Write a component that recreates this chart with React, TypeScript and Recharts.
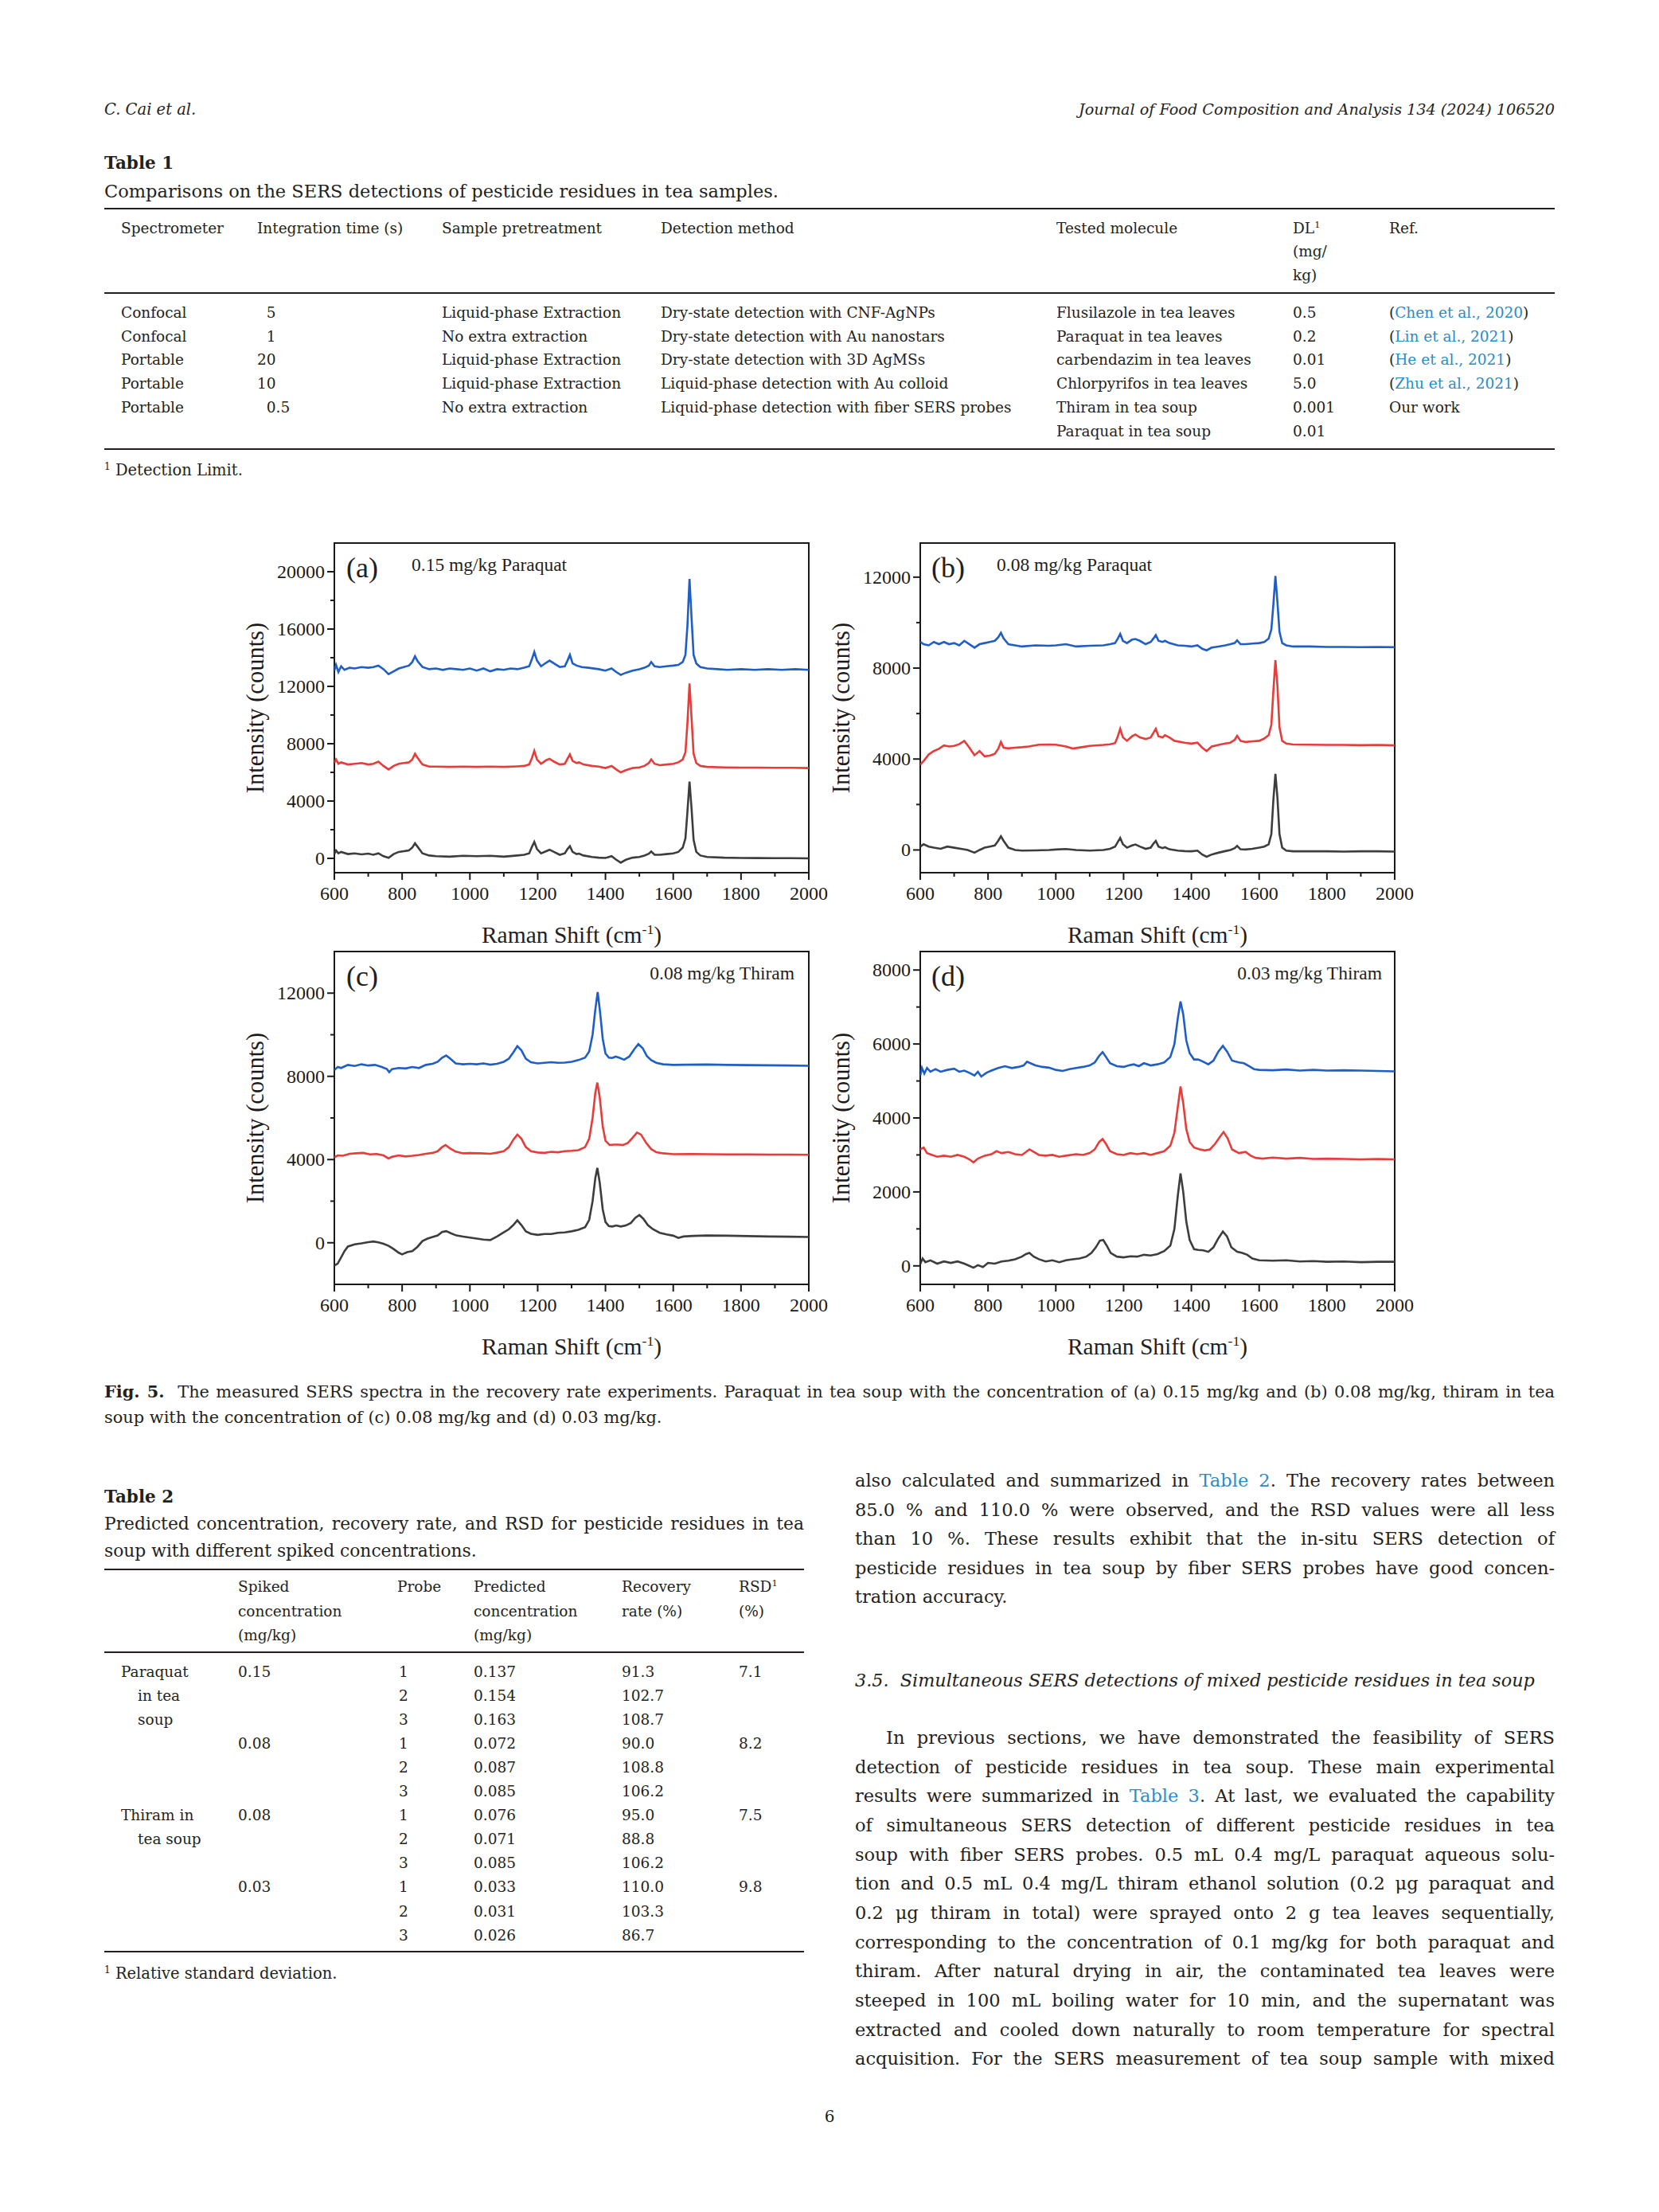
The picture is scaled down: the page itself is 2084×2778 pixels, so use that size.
import React from 'react';
import { LineChart, Line, XAxis, YAxis, ReferenceArea } from 'recharts';

type Pt = [number, number];

// ---- Fig. 5 spectra, [Raman shift (cm-1), intensity (counts)] ----

// (a) 0.15 mg/kg paraquat
const aBlue: Pt[] = [[600,13100],[605,13500],[612,13000],[620,13400],[630,13150],[645,13300],[660,13250],[680,13350],[700,13300],[715,13350],[730,13450],[745,13200],[760,12850],[775,13050],[790,13250],[805,13350],[820,13450],[830,13700],[838,14100],[846,13750],[860,13350],[880,13200],[900,13250],[920,13150],[940,13250],[960,13200],[980,13150],[1000,13250],[1020,13100],[1040,13250],[1060,13050],[1080,13200],[1100,13150],[1120,13250],[1140,13200],[1160,13300],[1175,13400],[1183,13900],[1190,14400],[1198,13800],[1210,13400],[1225,13650],[1235,13800],[1248,13600],[1265,13350],[1280,13400],[1288,13800],[1295,14200],[1303,13600],[1315,13450],[1330,13350],[1350,13300],[1380,13200],[1400,13100],[1418,13250],[1432,13000],[1445,12800],[1460,12950],[1480,13100],[1500,13200],[1515,13300],[1528,13450],[1535,13700],[1545,13400],[1560,13350],[1580,13400],[1600,13450],[1615,13500],[1628,13700],[1636,14200],[1642,16300],[1648,19500],[1654,16800],[1660,14200],[1668,13600],[1680,13350],[1700,13250],[1730,13200],[1760,13150],[1800,13200],[1840,13150],[1880,13200],[1920,13150],[1960,13200],[2000,13150]];
const aRed: Pt[] = [[600,6650],[605,6900],[612,6600],[620,6700],[640,6550],[660,6600],[680,6650],[700,6550],[715,6600],[730,6750],[745,6450],[760,6200],[775,6450],[790,6600],[805,6650],[820,6700],[830,6900],[838,7300],[846,7000],[860,6550],[880,6400],[900,6400],[940,6380],[980,6400],[1020,6380],[1060,6400],[1100,6380],[1140,6420],[1160,6450],[1175,6550],[1183,7000],[1190,7500],[1198,6900],[1210,6600],[1225,6850],[1235,6950],[1248,6750],[1265,6550],[1280,6600],[1288,6950],[1295,7250],[1303,6800],[1315,6650],[1322,6700],[1335,6550],[1360,6450],[1380,6400],[1400,6300],[1418,6450],[1432,6200],[1445,6000],[1460,6150],[1480,6300],[1500,6350],[1515,6450],[1528,6650],[1535,6900],[1545,6600],[1560,6500],[1580,6550],[1600,6600],[1615,6700],[1628,6900],[1636,7400],[1642,9500],[1648,12200],[1654,9800],[1660,7300],[1668,6650],[1680,6450],[1700,6380],[1750,6350],[1800,6330],[1850,6330],[1900,6320],[1950,6320],[2000,6300]];
const aGrey: Pt[] = [[600,300],[605,550],[612,350],[620,450],[640,300],[660,350],[680,280],[700,330],[715,250],[730,350],[745,150],[760,40],[775,300],[790,450],[805,500],[820,550],[830,750],[838,1050],[846,800],[860,350],[880,200],[900,150],[940,120],[980,180],[1020,150],[1060,180],[1100,120],[1140,200],[1160,250],[1175,350],[1183,800],[1190,1150],[1198,650],[1210,350],[1225,500],[1235,600],[1248,450],[1265,250],[1280,350],[1288,650],[1295,850],[1303,450],[1315,300],[1322,330],[1335,200],[1360,100],[1380,50],[1400,30],[1418,150],[1432,-100],[1445,-300],[1460,-100],[1480,50],[1500,100],[1515,200],[1528,320],[1535,480],[1545,250],[1560,250],[1580,300],[1600,350],[1615,450],[1628,750],[1636,1400],[1642,3300],[1648,5350],[1654,3500],[1660,1300],[1668,450],[1680,200],[1700,100],[1750,50],[1800,30],[1850,20],[1900,10],[1950,10],[2000,0]];

// (b) 0.08 mg/kg paraquat
const bBlue: Pt[] = [[600,9150],[610,9050],[625,9000],[640,9150],[655,9050],[670,9150],[685,9050],[700,9100],[715,9000],[730,9200],[745,9050],[760,8900],[775,9050],[790,9100],[805,9150],[820,9200],[830,9350],[838,9550],[846,9300],[860,9050],[880,9000],[900,8950],[940,9000],[980,8980],[1000,9000],[1030,9050],[1060,8950],[1100,8980],[1140,9000],[1160,9050],[1175,9100],[1183,9300],[1190,9500],[1198,9200],[1210,9100],[1225,9250],[1235,9280],[1248,9200],[1265,9050],[1280,9150],[1288,9300],[1295,9450],[1303,9200],[1315,9150],[1322,9200],[1335,9100],[1360,9000],[1380,8980],[1400,8950],[1418,9000],[1432,8850],[1445,8780],[1460,8900],[1480,8950],[1500,9000],[1515,9050],[1528,9100],[1535,9220],[1545,9050],[1560,9050],[1580,9080],[1600,9100],[1615,9150],[1628,9300],[1636,9700],[1642,10800],[1648,12050],[1654,10900],[1660,9600],[1668,9100],[1680,9000],[1700,8950],[1750,8950],[1800,8930],[1850,8930],[1900,8920],[1950,8930],[2000,8920]];
const bRed: Pt[] = [[600,3750],[612,3950],[625,4200],[640,4350],[655,4450],[670,4600],[685,4550],[700,4580],[715,4650],[730,4800],[745,4500],[760,4170],[775,4350],[790,4120],[805,4150],[820,4230],[830,4450],[838,4750],[846,4500],[860,4470],[880,4500],[900,4520],[920,4550],[950,4630],[980,4640],[1000,4630],[1030,4550],[1050,4460],[1080,4530],[1100,4580],[1140,4620],[1160,4650],[1175,4700],[1183,5000],[1190,5330],[1198,4950],[1210,4800],[1225,5000],[1235,5080],[1248,4950],[1265,4880],[1280,4950],[1288,5150],[1295,5330],[1303,5000],[1315,4950],[1322,5050],[1335,4950],[1350,4800],[1380,4720],[1400,4680],[1418,4720],[1432,4500],[1445,4350],[1460,4550],[1480,4620],[1500,4680],[1515,4720],[1528,4850],[1535,5020],[1545,4800],[1560,4750],[1580,4780],[1600,4800],[1615,4900],[1628,5050],[1636,5500],[1642,7000],[1648,8350],[1654,7200],[1660,5400],[1668,4800],[1680,4680],[1700,4640],[1750,4630],[1800,4620],[1850,4620],[1900,4610],[1950,4620],[2000,4600]];
const bGrey: Pt[] = [[600,150],[610,250],[625,150],[640,100],[660,50],[680,150],[700,100],[720,50],[740,0],[760,-120],[775,0],[790,100],[805,150],[820,200],[830,400],[838,600],[846,400],[860,100],[880,0],[900,-30],[940,-20],[980,0],[1000,20],[1030,40],[1060,0],[1100,-30],[1140,0],[1160,50],[1175,150],[1183,350],[1190,530],[1198,250],[1210,100],[1225,200],[1235,240],[1248,150],[1265,50],[1280,100],[1288,280],[1295,400],[1303,150],[1315,80],[1322,120],[1335,30],[1360,-30],[1380,-50],[1400,-60],[1418,-30],[1432,-200],[1445,-300],[1460,-200],[1480,-120],[1500,-50],[1515,0],[1528,80],[1535,180],[1545,30],[1560,20],[1580,50],[1600,100],[1615,150],[1628,250],[1636,700],[1642,2200],[1648,3350],[1654,2300],[1660,700],[1668,100],[1680,-30],[1700,-60],[1750,-60],[1800,-60],[1850,-70],[1900,-60],[1950,-60],[2000,-70]];

// (c) 0.08 mg/kg thiram
const cBlue: Pt[] = [[600,8300],[610,8450],[620,8400],[640,8550],[660,8500],[680,8580],[700,8520],[720,8550],[740,8450],[755,8350],[762,8200],[770,8350],[790,8400],[810,8380],[830,8450],[850,8400],[870,8550],[890,8600],[905,8700],[918,8900],[930,9000],[942,8850],[958,8620],[980,8580],[1000,8600],[1020,8580],[1040,8620],[1060,8560],[1080,8600],[1100,8700],[1115,8850],[1128,9150],[1140,9450],[1152,9250],[1165,8850],[1180,8680],[1200,8620],[1220,8650],[1240,8680],[1260,8650],[1280,8660],[1300,8700],[1320,8780],[1340,8900],[1352,9200],[1362,10000],[1370,11200],[1377,12050],[1384,11100],[1392,9800],[1400,9100],[1410,8900],[1420,8880],[1430,8950],[1440,8900],[1455,8800],[1470,8950],[1485,9300],[1497,9550],[1510,9350],[1522,8980],[1535,8780],[1550,8650],[1570,8580],[1600,8550],[1640,8560],[1700,8570],[1760,8550],[1820,8540],[1880,8530],[1940,8520],[2000,8510]];
const cRed: Pt[] = [[600,4100],[610,4200],[625,4180],[645,4280],[665,4300],[685,4320],[705,4250],[725,4270],[745,4200],[760,4050],[770,4130],[790,4200],[810,4150],[830,4180],[850,4220],[870,4280],[890,4320],[905,4400],[918,4600],[928,4700],[940,4550],[958,4380],[980,4300],[1000,4310],[1030,4300],[1060,4280],[1080,4330],[1100,4400],[1115,4600],[1128,4950],[1140,5200],[1152,5000],[1165,4600],[1180,4400],[1200,4340],[1220,4320],[1240,4370],[1260,4350],[1280,4400],[1300,4420],[1320,4450],[1340,4600],[1352,5000],[1362,6000],[1370,7200],[1376,7700],[1383,7000],[1392,5600],[1400,4900],[1412,4700],[1425,4720],[1438,4720],[1452,4700],[1466,4800],[1480,5050],[1493,5300],[1505,5200],[1520,4800],[1535,4500],[1550,4350],[1570,4300],[1600,4260],[1650,4270],[1700,4260],[1760,4250],[1820,4250],[1880,4240],[1940,4240],[2000,4230]];
const cGrey: Pt[] = [[600,-1100],[610,-1000],[620,-700],[630,-400],[640,-180],[660,-80],[680,-30],[700,30],[715,60],[730,20],[745,-50],[760,-150],[775,-300],[790,-480],[800,-560],[815,-450],[830,-400],[845,-200],[860,80],[875,200],[890,280],[905,350],[918,520],[930,560],[945,450],[960,350],[980,300],[1000,250],[1020,200],[1040,150],[1060,130],[1080,300],[1100,500],[1115,650],[1128,850],[1140,1080],[1152,850],[1165,550],[1180,430],[1200,380],[1220,420],[1240,420],[1260,480],[1280,500],[1300,550],[1320,620],[1340,750],[1352,1100],[1362,2000],[1370,3100],[1376,3600],[1383,2900],[1392,1600],[1400,1000],[1410,800],[1420,780],[1432,830],[1445,780],[1460,830],[1475,950],[1488,1200],[1500,1330],[1512,1150],[1525,850],[1540,650],[1560,480],[1580,400],[1600,340],[1615,230],[1630,300],[1660,330],[1700,350],[1760,340],[1820,320],[1880,300],[1940,290],[2000,280]];

// (d) 0.03 mg/kg thiram
const dBlue: Pt[] = [[600,5150],[605,5350],[612,5200],[620,5350],[630,5250],[645,5320],[660,5250],[680,5300],[700,5330],[715,5250],[730,5280],[745,5220],[760,5150],[770,5250],[780,5120],[795,5220],[810,5280],[830,5350],[850,5400],[870,5350],[890,5380],[905,5420],[915,5520],[925,5480],[940,5420],[960,5380],[980,5360],[1000,5300],[1020,5270],[1040,5320],[1060,5350],[1080,5380],[1100,5420],[1115,5500],[1128,5680],[1138,5780],[1148,5650],[1160,5480],[1180,5400],[1200,5380],[1215,5420],[1230,5450],[1245,5400],[1260,5480],[1280,5420],[1300,5450],[1320,5500],[1338,5650],[1350,6000],[1360,6700],[1368,7150],[1376,6800],[1385,6100],[1395,5750],[1408,5580],[1420,5580],[1435,5520],[1450,5450],[1465,5550],[1480,5800],[1493,5950],[1505,5800],[1520,5550],[1540,5500],[1555,5480],[1570,5400],[1585,5320],[1600,5300],[1640,5290],[1680,5310],[1720,5280],[1760,5300],[1800,5280],[1850,5290],[1900,5280],[1950,5270],[2000,5260]];
const dRed: Pt[] = [[600,3150],[610,3200],[620,3050],[635,3000],[650,2950],[670,2980],[690,2950],[710,3000],[730,2950],[745,2880],[757,2800],[770,2900],[790,2980],[810,3020],[825,3100],[840,3050],[860,3080],[880,3020],[900,3000],[912,3080],[922,3150],[935,3080],[950,3000],[970,2980],[990,3000],[1010,2950],[1030,2980],[1060,3020],[1080,3000],[1100,3050],[1115,3150],[1128,3350],[1138,3430],[1148,3300],[1160,3100],[1180,3020],[1200,3000],[1220,3050],[1240,3020],[1260,3050],[1280,3000],[1300,3050],[1320,3100],[1338,3250],[1350,3600],[1360,4300],[1368,4850],[1376,4400],[1385,3700],[1395,3350],[1408,3200],[1425,3150],[1440,3120],[1455,3150],[1470,3300],[1485,3500],[1495,3620],[1507,3450],[1520,3150],[1540,3050],[1560,3080],[1575,2980],[1590,2920],[1610,2900],[1640,2930],[1680,2900],[1720,2920],[1760,2890],[1800,2900],[1850,2890],[1900,2880],[1950,2890],[2000,2880]];
const dGrey: Pt[] = [[600,50],[607,200],[615,100],[630,150],[650,60],[670,120],[690,80],[710,120],[730,60],[745,0],[757,-50],[770,20],[785,-30],[800,80],[820,60],[840,120],[860,140],[880,180],[900,250],[912,320],[922,350],[935,250],[950,180],[970,120],[990,150],[1010,100],[1030,150],[1050,180],[1070,200],[1090,250],[1105,350],[1118,500],[1130,680],[1140,700],[1150,550],[1162,350],[1180,250],[1200,230],[1220,260],[1240,250],[1260,300],[1280,280],[1300,320],[1320,400],[1338,550],[1350,1000],[1360,1900],[1368,2500],[1376,2000],[1385,1200],[1395,700],[1408,450],[1420,430],[1435,420],[1450,380],[1465,500],[1480,750],[1493,930],[1505,800],[1518,500],[1535,380],[1550,350],[1565,300],[1580,200],[1600,150],[1640,140],[1680,150],[1720,120],[1760,130],[1800,110],[1850,120],[1900,100],[1950,110],[2000,110]];

const shiftTicks = [600, 700, 800, 900, 1000, 1100, 1200, 1300, 1400, 1500, 1600, 1700, 1800, 1900, 2000];
const aCountTicks = [0, 2000, 4000, 6000, 8000, 10000, 12000, 14000, 16000, 18000, 20000];
const bCountTicks = [0, 2000, 4000, 6000, 8000, 10000, 12000];
const cCountTicks = [0, 2000, 4000, 6000, 8000, 10000, 12000];
const dCountTicks = [0, 1000, 2000, 3000, 4000, 5000, 6000, 7000, 8000];

// ---- tables ----
const t1Head = ['Spectrometer', 'Integration time (s)', 'Sample pretreatment', 'Detection method', 'Tested molecule'];
const t1Spectrometer = ['Confocal', 'Confocal', 'Portable', 'Portable', 'Portable'];
const t1Time = ['\u20075', '\u20071', '20', '10', '\u20070.5'];
const t1Pretreat = ['Liquid-phase Extraction', 'No extra extraction', 'Liquid-phase Extraction', 'Liquid-phase Extraction', 'No extra extraction'];
const t1Method = ['Dry-state detection with CNF-AgNPs', 'Dry-state detection with Au nanostars', 'Dry-state detection with 3D AgMSs', 'Liquid-phase detection with Au colloid', 'Liquid-phase detection with fiber SERS probes'];
const t1Molecule = ['Flusilazole in tea leaves', 'Paraquat in tea leaves', 'carbendazim in tea leaves', 'Chlorpyrifos in tea leaves', 'Thiram in tea soup', 'Paraquat in tea soup'];
const t1DL = ['0.5', '0.2', '0.01', '5.0', '0.001', '0.01'];
const t1Ref = ['Chen et al., 2020', 'Lin et al., 2021', 'He et al., 2021', 'Zhu et al., 2021', ''];

const t2Group = ['Paraquat', 'in tea', 'soup', '', '', '', 'Thiram in', 'tea soup', '', '', '', ''];
const t2Spiked = ['0.15', '', '', '0.08', '', '', '0.08', '', '', '0.03', '', ''];
const t2Probe = ['1', '2', '3', '1', '2', '3', '1', '2', '3', '1', '2', '3'];
const t2Predicted = ['0.137', '0.154', '0.163', '0.072', '0.087', '0.085', '0.076', '0.071', '0.085', '0.033', '0.031', '0.026'];
const t2Recovery = ['91.3', '102.7', '108.7', '90.0', '108.8', '106.2', '95.0', '88.8', '106.2', '110.0', '103.3', '86.7'];
const t2RSD = ['7.1', '', '', '8.2', '', '', '7.5', '', '', '9.8', '', ''];

const para1 = [
  'also calculated and summarized in Table 2. The recovery rates between',
  '85.0 % and 110.0 % were observed, and the RSD values were all less',
  'than 10 %. These results exhibit that the in-situ SERS detection of',
  'pesticide residues in tea soup by fiber SERS probes have good concen-',
  'tration accuracy.',
];
const para2 = [
  'In previous sections, we have demonstrated the feasibility of SERS',
  'detection of pesticide residues in tea soup. These main experimental',
  'results were summarized in Table 3. At last, we evaluated the capability',
  'of simultaneous SERS detection of different pesticide residues in tea',
  'soup with fiber SERS probes. 0.5 mL 0.4 mg/L paraquat aqueous solu-',
  'tion and 0.5 mL 0.4 mg/L thiram ethanol solution (0.2 μg paraquat and',
  '0.2 μg thiram in total) were sprayed onto 2 g tea leaves sequentially,',
  'corresponding to the concentration of 0.1 mg/kg for both paraquat and',
  'thiram. After natural drying in air, the contaminated tea leaves were',
  'steeped in 100 mL boiling water for 10 min, and the supernatant was',
  'extracted and cooled down naturally to room temperature for spectral',
  'acquisition. For the SERS measurement of tea soup sample with mixed',
];

const SERIF = '"DejaVu Serif", serif';
const FIG = '"Liberation Serif", "Times New Roman", serif';
const INK = '#231f20';
const LINK = '#2a8cc8';
const BLUE = '#1f5ec6';
const RED = '#e63c3a';
const GREY = '#3d3d3d';

const BODY = 22.5;
const TAB = 18.5;

interface Panel {
  tag: string;
  note: string;
  noteAt: { x: number; anchor: 'start' | 'end' };
  plotLeft: number;
  plotTop: number;
  plotH: number;
  yDomain: [number, number];
  yTicks: number[];
  yMajor: number;
  series: Pt[][];
}

const panels: Panel[] = [
  { tag: '(a)', note: '0.15 mg/kg Paraquat', noteAt: { x: 517, anchor: 'start' }, plotLeft: 420, plotTop: 682, plotH: 414, yDomain: [-1000, 22000], yTicks: aCountTicks, yMajor: 4000, series: [aBlue, aRed, aGrey] },
  { tag: '(b)', note: '0.08 mg/kg Paraquat', noteAt: { x: 1252, anchor: 'start' }, plotLeft: 1156, plotTop: 682, plotH: 414, yDomain: [-1000, 13500], yTicks: bCountTicks, yMajor: 4000, series: [bBlue, bRed, bGrey] },
  { tag: '(c)', note: '0.08 mg/kg Thiram', noteAt: { x: 998, anchor: 'end' }, plotLeft: 420, plotTop: 1195, plotH: 418, yDomain: [-2000, 14000], yTicks: cCountTicks, yMajor: 4000, series: [cBlue, cRed, cGrey] },
  { tag: '(d)', note: '0.03 mg/kg Thiram', noteAt: { x: 1736, anchor: 'end' }, plotLeft: 1156, plotTop: 1195, plotH: 418, yDomain: [-500, 8500], yTicks: dCountTicks, yMajor: 2000, series: [dBlue, dRed, dGrey] },
];
const seriesColors = [BLUE, RED, GREY];

function XTick(props: any) {
  const { x, y, payload } = props;
  const major = payload.value % 200 === 0;
  return (
    <g>
      <line x1={x} x2={x} y1={y} y2={y + (major ? 9 : 5)} stroke="#1a1a1a" strokeWidth={2} />
      {major && (
        <text x={x} y={y + 26} textAnchor="middle" dominantBaseline="central" fontSize={24} fontFamily={FIG} fill="#1a1a1a">
          {payload.value}
        </text>
      )}
    </g>
  );
}

function YTick(props: any) {
  const { x, y, payload, step } = props;
  const major = payload.value % step === 0;
  return (
    <g>
      <line x1={x} x2={x - (major ? 9 : 5)} y1={y} y2={y} stroke="#1a1a1a" strokeWidth={2} />
      {major && (
        <text x={x - 12} y={y} textAnchor="end" dominantBaseline="central" fontSize={24} fontFamily={FIG} fill="#1a1a1a">
          {payload.value}
        </text>
      )}
    </g>
  );
}

function SpectraPanel({ p }: { p: Panel }) {
  const padL = 120;
  const padT = 20;
  const padR = 45;
  const plotW = 596;
  const cx = p.plotLeft + plotW / 2;
  const bottom = p.plotTop + p.plotH;
  return (
    <>
      <div style={{ position: 'absolute', left: p.plotLeft - padL, top: p.plotTop - padT }}>
        <LineChart width={padL + plotW + padR} height={padT + p.plotH + 50} margin={{ top: padT, right: padR, bottom: 10, left: 0 }}>
          <XAxis
            type="number"
            dataKey="x"
            domain={[600, 2000]}
            ticks={shiftTicks}
            interval={0}
            allowDataOverflow
            axisLine={false}
            tickLine={false}
            tickSize={0}
            tickMargin={0}
            height={40}
            tick={(t: any) => <XTick {...t} />}
          />
          <YAxis
            type="number"
            domain={p.yDomain}
            ticks={p.yTicks}
            interval={0}
            allowDataOverflow
            axisLine={false}
            tickLine={false}
            tickSize={0}
            tickMargin={0}
            width={padL}
            tick={(t: any) => <YTick {...t} step={p.yMajor} />}
          />
          <ReferenceArea x1={600} x2={2000} y1={p.yDomain[0]} y2={p.yDomain[1]} fill="none" stroke="#1a1a1a" strokeWidth={2} />
          {p.series.map((s, i) => (
            <Line
              key={i}
              data={s.map(([x, y]) => ({ x, y }))}
              dataKey="y"
              type="linear"
              stroke={seriesColors[i]}
              strokeWidth={2.6}
              dot={false}
              activeDot={false}
              isAnimationActive={false}
            />
          ))}
        </LineChart>
      </div>
      <T x={p.plotLeft + 35} cy={p.plotTop + 31} size={36} anchor="middle" font={FIG}>{p.tag}</T>
      <T x={p.noteAt.x} cy={p.plotTop + 27} size={23.5} anchor={p.noteAt.anchor} font={FIG}>{p.note}</T>
      <T x={cx} cy={bottom + 71} size={29.5} anchor="middle" font={FIG}>
        Raman Shift (cm<sup style={{ fontSize: '0.6em' }}>-1</sup>)
      </T>
      <div
        style={{
          position: 'absolute',
          left: p.plotLeft - 99,
          top: p.plotTop + p.plotH / 2,
          transform: 'translate(-50%, -50%) rotate(-90deg)',
          fontFamily: FIG,
          fontSize: 30.5,
          whiteSpace: 'nowrap',
          color: '#1a1a1a',
        }}
      >
        Intensity (counts)
      </div>
    </>
  );
}

function T({ x, cy, size, anchor = 'start', font = SERIF, lh, style, children }: any) {
  const h = lh ?? Math.round(size * 1.4);
  const shift = anchor === 'middle' ? 'translateX(-50%)' : anchor === 'end' ? 'translateX(-100%)' : undefined;
  return (
    <div
      style={{
        position: 'absolute',
        left: x,
        top: cy - h / 2,
        height: h,
        lineHeight: `${h}px`,
        fontSize: size,
        fontFamily: font,
        whiteSpace: 'nowrap',
        transform: shift,
        color: INK,
        ...style,
      }}
    >
      {children}
    </div>
  );
}

function JLine({ x, cy, w, size, lh, justify, style, children }: any) {
  return (
    <div
      style={{
        position: 'absolute',
        left: x,
        top: cy - lh / 2,
        width: w,
        height: lh,
        lineHeight: `${lh}px`,
        fontSize: size,
        fontFamily: SERIF,
        color: INK,
        textAlign: 'justify',
        textAlignLast: justify ? 'justify' : 'left',
        ...style,
      }}
    >
      {children}
    </div>
  );
}

function withLinks(s: string) {
  return s.split(/(Table \d)/).map((part, i) =>
    /^Table \d$/.test(part) ? <span key={i} style={{ color: LINK }}>{part}</span> : <React.Fragment key={i}>{part}</React.Fragment>,
  );
}

function Rule({ x, y, w, t = 2 }: any) {
  return <div style={{ position: 'absolute', left: x, top: y - t / 2, width: w, height: t, background: INK }} />;
}

const sup = (s: string) => <sup style={{ fontSize: '0.62em', lineHeight: 0 }}>{s}</sup>;

export default function App() {
  const L = 131;
  const R = 1953;
  const t1Cols = [152, 323, 555, 830, 1327, 1624, 1745];
  const t1Rows = [393, 423, 452, 482, 512, 542];
  const t2Cols = [152, 299, 499, 595, 781, 928];
  const t2Rows = t2Probe.map((_, i) => 2100 + i * 30.05);
  const colR = 1074;
  const colW = R - colR;

  return (
    <div style={{ position: 'absolute', left: 0, top: 0, width: 2084, height: 2778, background: '#fff', overflow: 'hidden' }}>
      {/* running head */}
      <T x={L} cy={137} size={19.5} style={{ fontStyle: 'italic' }}>C. Cai et al.</T>
      <T x={R} cy={137} size={19.2} anchor="end" style={{ fontStyle: 'italic' }}>
        Journal of Food Composition and Analysis 134 (2024) 106520
      </T>

      {/* Table 1 */}
      <T x={L} cy={205} size={21.5} style={{ fontWeight: 'bold' }}>Table 1</T>
      <T x={L} cy={240} size={22.5}>Comparisons on the SERS detections of pesticide residues in tea samples.</T>
      <Rule x={L} y={262} w={R - L} t={2.5} />
      {t1Head.map((h, i) => (
        <T key={h} x={t1Cols[i]} cy={287} size={TAB}>{h}</T>
      ))}
      <T x={t1Cols[5]} cy={287} size={TAB}>DL{sup('1')}</T>
      <T x={t1Cols[5]} cy={316} size={TAB}>(mg/</T>
      <T x={t1Cols[5]} cy={346} size={TAB}>kg)</T>
      <T x={t1Cols[6]} cy={287} size={TAB}>Ref.</T>
      <Rule x={L} y={368} w={R - L} t={2} />
      {t1Spectrometer.map((s, i) => (
        <React.Fragment key={i}>
          <T x={t1Cols[0]} cy={t1Rows[i]} size={TAB}>{s}</T>
          <T x={t1Cols[1]} cy={t1Rows[i]} size={TAB}>{t1Time[i]}</T>
          <T x={t1Cols[2]} cy={t1Rows[i]} size={TAB}>{t1Pretreat[i]}</T>
          <T x={t1Cols[3]} cy={t1Rows[i]} size={TAB}>{t1Method[i]}</T>
          <T x={t1Cols[6]} cy={t1Rows[i]} size={TAB}>
            {t1Ref[i] ? (
              <>
                (<span style={{ color: LINK }}>{t1Ref[i]}</span>)
              </>
            ) : (
              'Our work'
            )}
          </T>
        </React.Fragment>
      ))}
      {t1Molecule.map((m, i) => (
        <React.Fragment key={m}>
          <T x={t1Cols[4]} cy={t1Rows[i]} size={TAB}>{m}</T>
          <T x={t1Cols[5]} cy={t1Rows[i]} size={TAB}>{t1DL[i]}</T>
        </React.Fragment>
      ))}
      <Rule x={L} y={564} w={R - L} t={2.5} />
      <T x={L} cy={590} size={19.5}>{sup('1')} Detection Limit.</T>

      {/* Fig. 5 */}
      {panels.map((p) => (
        <SpectraPanel key={p.tag} p={p} />
      ))}
      <JLine x={L} cy={1748} w={R - L} size={20.9} lh={32} justify>
        <b>Fig. 5.</b>&nbsp; The measured SERS spectra in the recovery rate experiments. Paraquat in tea soup with the concentration of (a) 0.15 mg/kg and (b) 0.08 mg/kg, thiram in tea
      </JLine>
      <JLine x={L} cy={1780} w={R - L} size={20.9} lh={32}>
        soup with the concentration of (c) 0.08 mg/kg and (d) 0.03 mg/kg.
      </JLine>

      {/* Table 2 */}
      <T x={L} cy={1880} size={21.5} style={{ fontWeight: 'bold' }}>Table 2</T>
      <JLine x={L} cy={1913} w={879} size={21.8} lh={33} justify>
        Predicted concentration, recovery rate, and RSD for pesticide residues in tea
      </JLine>
      <JLine x={L} cy={1947} w={879} size={21.8} lh={33}>
        soup with different spiked concentrations.
      </JLine>
      <Rule x={L} y={1971} w={879} t={2.5} />
      <T x={t2Cols[1]} cy={1993} size={TAB}>Spiked</T>
      <T x={t2Cols[1]} cy={2024} size={TAB}>concentration</T>
      <T x={t2Cols[1]} cy={2054} size={TAB}>(mg/kg)</T>
      <T x={t2Cols[2]} cy={1993} size={TAB}>Probe</T>
      <T x={t2Cols[3]} cy={1993} size={TAB}>Predicted</T>
      <T x={t2Cols[3]} cy={2024} size={TAB}>concentration</T>
      <T x={t2Cols[3]} cy={2054} size={TAB}>(mg/kg)</T>
      <T x={t2Cols[4]} cy={1993} size={TAB}>Recovery</T>
      <T x={t2Cols[4]} cy={2024} size={TAB}>rate (%)</T>
      <T x={t2Cols[5]} cy={1993} size={TAB}>RSD{sup('1')}</T>
      <T x={t2Cols[5]} cy={2024} size={TAB}>(%)</T>
      <Rule x={L} y={2075} w={879} t={2} />
      {t2Probe.map((probe, i) => (
        <React.Fragment key={i}>
          <T x={t2Cols[0] + (t2Group[i] && !/^(Paraquat|Thiram)/.test(t2Group[i]) ? 21 : 0)} cy={t2Rows[i]} size={TAB}>{t2Group[i]}</T>
          <T x={t2Cols[1]} cy={t2Rows[i]} size={TAB}>{t2Spiked[i]}</T>
          <T x={t2Cols[2] + 2} cy={t2Rows[i]} size={TAB}>{probe}</T>
          <T x={t2Cols[3]} cy={t2Rows[i]} size={TAB}>{t2Predicted[i]}</T>
          <T x={t2Cols[4]} cy={t2Rows[i]} size={TAB}>{t2Recovery[i]}</T>
          <T x={t2Cols[5]} cy={t2Rows[i]} size={TAB}>{t2RSD[i]}</T>
        </React.Fragment>
      ))}
      <Rule x={L} y={2451} w={879} t={2.5} />
      <T x={L} cy={2478} size={19.5}>{sup('1')} Relative standard deviation.</T>

      {/* right column text */}
      {para1.map((line, i) => (
        <JLine key={i} x={colR} cy={1859 + i * 36.6} w={colW} size={BODY} lh={36} justify={i < para1.length - 1}>
          {withLinks(line)}
        </JLine>
      ))}
      <T x={colR} cy={2110} size={22.3} style={{ fontStyle: 'italic' }}>
        3.5.&nbsp; Simultaneous SERS detections of mixed pesticide residues in tea soup
      </T>
      {para2.map((line, i) => (
        <JLine
          key={i}
          x={i === 0 ? colR + 39 : colR}
          cy={2182 + i * 36.65}
          w={i === 0 ? colW - 39 : colW}
          size={BODY}
          lh={36}
          justify
        >
          {withLinks(line)}
        </JLine>
      ))}

      <T x={1042} cy={2658} size={20} anchor="middle">6</T>
    </div>
  );
}
